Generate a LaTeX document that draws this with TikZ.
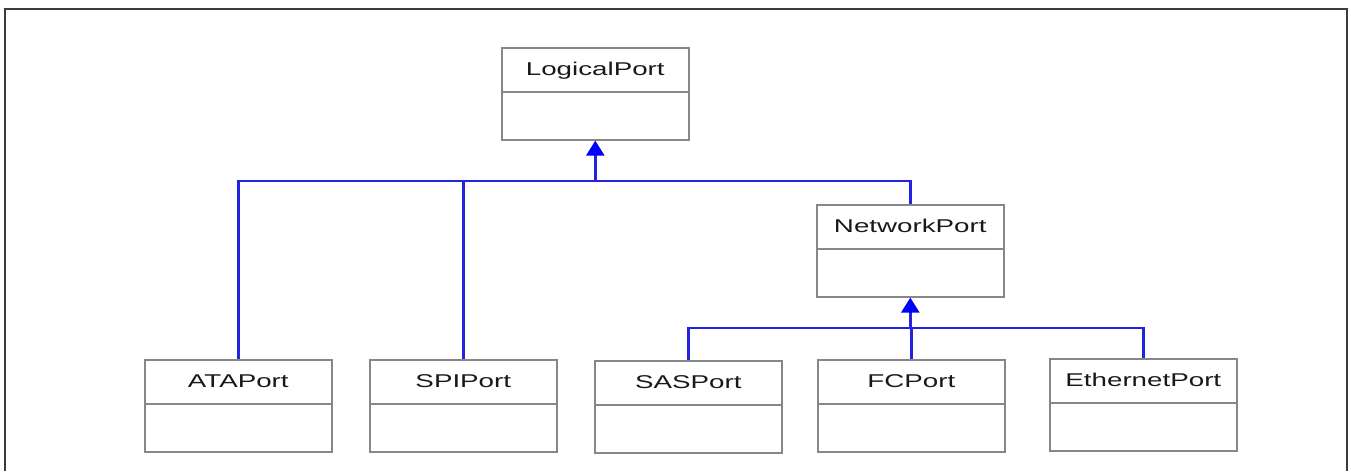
\documentclass[tikz,border=0pt]{standalone}
\usepackage{fontspec}
\newfontfamily\umlfont[FakeStretch=1.5]{Liberation Sans}
\usetikzlibrary{arrows.meta,calc}
\definecolor{framegray}{RGB}{60,60,60}
\definecolor{boxgray}{RGB}{135,135,135}
\definecolor{linkblue}{RGB}{35,35,225}
\definecolor{tipblue}{RGB}{0,0,255}
\definecolor{textgray}{RGB}{25,25,25}
\tikzset{
  umlbox/.style={draw=boxgray, line width=1.6pt, fill=white, anchor=north west,
                 minimum width=187pt, minimum height=92pt, inner sep=0pt},
  umldiv/.style={draw=boxgray, line width=1.6pt},
  umltitle/.style={anchor=base, inner sep=0pt, text=textgray,
                   font=\umlfont\fontsize{18.5}{22}\selectfont},
  link/.style={draw=linkblue, line width=2.4pt},
  genarrow/.style={draw=linkblue, line width=2.4pt,
                   -{Triangle[width=18pt,length=15pt,fill=tipblue,color=tipblue]}},
  frameline/.style={draw=framegray, line width=2.2pt}
}
\begin{document}
\begin{tikzpicture}[x=1pt,y=-1pt]
\useasboundingbox (0,0) rectangle (1351,471);
\fill[white] (0,0) rectangle (1351,471);
\draw[frameline] (5,471) -- (5,9) -- (1347,9) -- (1347,471);

% classes
\node[umlbox] (lp)  at (501,47)  {};
\node[umlbox] (np)  at (816,204) {};
\node[umlbox] (ata) at (144,359) {};
\node[umlbox] (spi) at (369,359) {};
\node[umlbox] (sas) at (594,360) {};
\node[umlbox] (fc)  at (817,359) {};
\node[umlbox] (eth) at (1049,358) {};

\foreach \b/\t in {lp/LogicalPort, np/NetworkPort, ata/ATAPort, spi/SPIPort,
                   sas/SASPort, fc/FCPort, eth/EthernetPort}{
  \draw[umldiv] ([yshift=-45pt]\b.north west) -- ([yshift=-45pt]\b.north east);
  \node[umltitle] (\b-title) at ([yshift=-28pt]\b.north) {\t};
}

% generalisation to LogicalPort
\coordinate (j1) at (lp.south |- 0,181);
\draw[link] (ata.north) |- (j1);
\draw[link] (spi.north) |- (j1);
\draw[link] (np.north) |- (j1);
\draw[genarrow] (j1) -- (lp.south);

% generalisation to NetworkPort
\coordinate (j2) at (np.south |- 0,328);
\draw[link] (sas.north) |- (j2);
\draw[link] (eth.north) |- (j2);
\draw[link] (fc.north) |- (j2);
\draw[genarrow] (j2) -- (np.south);
\end{tikzpicture}
\end{document}
